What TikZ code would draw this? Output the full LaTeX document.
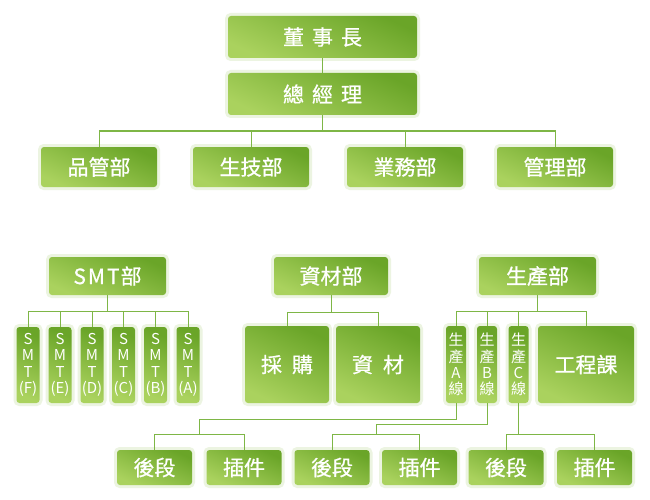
\documentclass[tikz,border=0pt]{standalone}
\usepackage{fontspec}
\setmainfont{Noto Sans CJK TC}[BoldFont={Noto Sans CJK TC},BoldFeatures={FakeBold=0.8}]
\definecolor{gdark}{RGB}{106,165,40}
\definecolor{glight}{RGB}{170,210,94}
\definecolor{glow}{RGB}{236,244,225}
\definecolor{lc}{RGB}{126,182,70}
\newcommand\gbx[6]{\node[gb,minimum width=#4pt,minimum height=#5pt] (#1) at (#2,#3) {#6};}
\begin{document}
\begin{tikzpicture}[x=1pt,y=-1pt,
  gb/.style={rounded corners=3pt,
    preaction={draw=glow,line width=6pt,rounded corners=4pt},
    top color=gdark,bottom color=glight,shading angle=-25,
    text=white,inner sep=0pt,font=\fontsize{21}{22}\selectfont\bfseries},
  vt/.style={align=center,font=\fontsize{15}{16.3}\selectfont},
  ln/.style={draw=lc,line width=1pt}]
\fill[white] (0,0) rectangle (650,500);
\useasboundingbox (0,0) rectangle (650,500);
% top
\gbx{dsz}{322.5}{37}{189}{42}{董\hspace{8pt}事\hspace{8pt}長}
\gbx{zjl}{322.5}{94}{189}{42}{總\hspace{8pt}經\hspace{8pt}理}
% departments
\gbx{d1}{99}{167}{116}{40}{品管部}
\gbx{d2}{251}{167}{116}{40}{生技部}
\gbx{d3}{405}{167}{116}{40}{業務部}
\gbx{d4}{555}{167}{116}{40}{管理部}
% row 3 heads
\gbx{smt}{107.5}{276}{117}{38}{S\hspace{2pt}M\hspace{2pt}T\hspace{1pt}部}
\gbx{zc}{331}{276}{114}{38}{資材部}
\gbx{sc}{537.5}{276}{117}{38}{生產部}
% SMT lines
\gbx{sf}{28}{365}{23}{76}{}
\gbx{se}{60}{365}{23}{76}{}
\gbx{sd}{92}{365}{23}{76}{}
\gbx{scc}{123.5}{365}{23}{76}{}
\gbx{sb}{155.5}{365}{23}{76}{}
\gbx{sa}{188}{365}{23}{76}{}
\node[vt,text=white] (tf) at (sf.center) {S\\M\\T\\(F)};
\node[vt,text=white] (te) at (se.center) {S\\M\\T\\(E)};
\node[vt,text=white] (td) at (sd.center) {S\\M\\T\\(D)};
\node[vt,text=white] (tc) at (scc.center) {S\\M\\T\\(C)};
\node[vt,text=white] (tb) at (sb.center) {S\\M\\T\\(B)};
\node[vt,text=white] (ta) at (sa.center) {S\\M\\T\\(A)};
% materials
\gbx{cg}{287}{364.5}{84}{77}{採\hspace{10pt}購}
\gbx{zz}{378}{364.5}{84}{77}{資\hspace{10pt}材}
% production
\gbx{la}{456}{364.5}{20}{77}{}
\gbx{lb}{487}{364.5}{20}{77}{}
\gbx{lcc}{518.5}{364.5}{20}{77}{}
\node[vt,text=white] (tla) at (la.center) {生\\產\\A\\線};
\node[vt,text=white] (tlb) at (lb.center) {生\\產\\B\\線};
\node[vt,text=white] (tlc) at (lcc.center) {生\\產\\C\\線};
\gbx{gck}{586}{364.5}{96}{77}{工程課}
% bottom
\gbx{a1}{154.5}{467.5}{75}{35}{後段}
\gbx{a2}{244}{467.5}{75}{35}{插件}
\gbx{b1}{332}{467.5}{75}{35}{後段}
\gbx{b2}{419.5}{467.5}{75}{35}{插件}
\gbx{c1}{506}{467.5}{75}{35}{後段}
\gbx{c2}{594.5}{467.5}{75}{35}{插件}
% connectors
\coordinate (bus1) at (322.5,131);
\coordinate (bus2) at (0,311);
\coordinate (bus3) at (0,312);
\coordinate (ya) at (0,419);
\coordinate (yb) at (0,424);
\coordinate (yc) at (0,434);
\coordinate (xa) at (199,0);
\coordinate (xb) at (376,0);
\draw[ln] (dsz.south) -- (zjl.north);
\draw[ln] (zjl.south) -- (bus1);
\draw[ln] (d1.north) -- (d1.north |- bus1) -- (d4.north |- bus1) -- (d4.north);
\draw[ln] (d2.north) -- (d2.north |- bus1);
\draw[ln] (d3.north) -- (d3.north |- bus1);
% smt
\draw[ln] (smt.south) -- (smt.south |- bus2);
\draw[ln] (sf.north) -- (sf.north |- bus2) -- (sa.north |- bus2) -- (sa.north);
\foreach \n in {se,sd,scc,sb} \draw[ln] (\n.north) -- (\n.north |- bus2);
% materials
\draw[ln] (zc.south) -- (zc.south |- bus3);
\draw[ln] (cg.north) -- (cg.north |- bus3) -- (zz.north |- bus3) -- (zz.north);
% production
\draw[ln] (sc.south) -- (sc.south |- bus2);
\draw[ln] (la.north) -- (la.north |- bus2) -- (gck.north |- bus2) -- (gck.north);
\draw[ln] (lb.north) -- (lb.north |- bus2);
\draw[ln] (lcc.north) -- (lcc.north |- bus2);
% bottom groups
\draw[ln] (la.south) -- (la.south |- ya) -- (xa |- ya) -- (xa |- yc);
\draw[ln] (a1.north) -- (a1.north |- yc) -- (a2.north |- yc) -- (a2.north);
\draw[ln] (lb.south) -- (lb.south |- yb) -- (xb |- yb) -- (xb |- yc);
\draw[ln] (b1.north) -- (b1.north |- yc) -- (b2.north |- yc) -- (b2.north);
\draw[ln] (lcc.south) -- (lcc.south |- yc);
\draw[ln] (c1.north) -- (c1.north |- yc) -- (c2.north |- yc) -- (c2.north);
\end{tikzpicture}
\end{document}
